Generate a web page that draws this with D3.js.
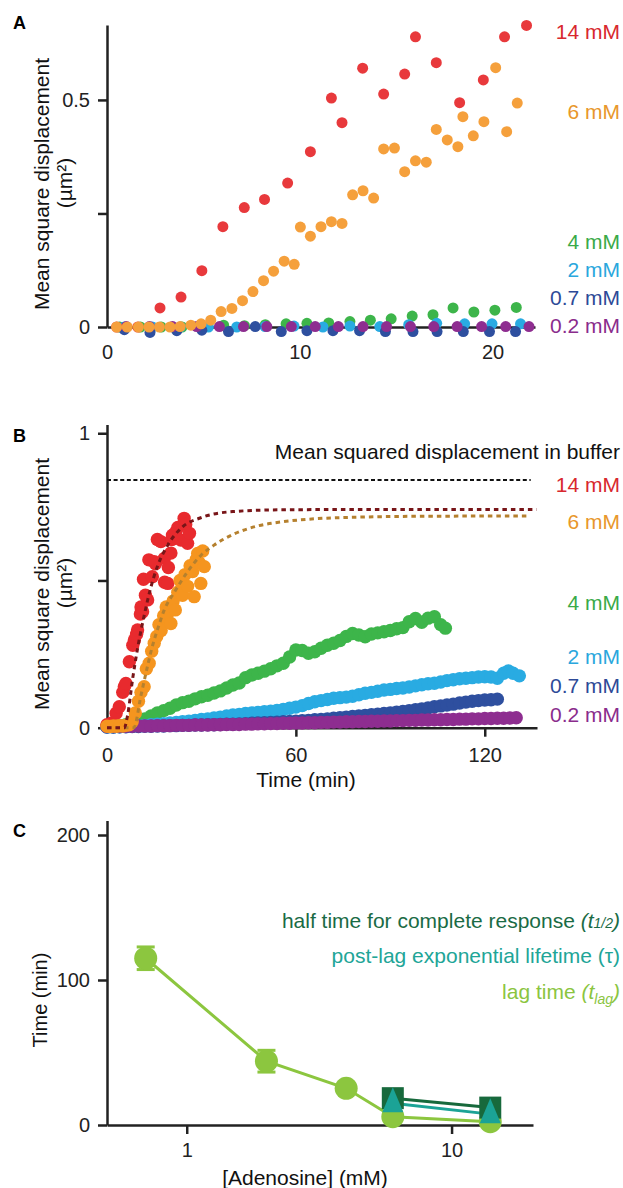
<!DOCTYPE html>
<html><head><meta charset="utf-8">
<script src="https://cdn.jsdelivr.net/npm/d3@7"></script>
<style>
body{margin:0;background:#fff}
svg{display:block}
text{font-family:"Liberation Sans",Arial,Helvetica,sans-serif}
</style>
</head><body>
<svg id="chart" width="623" height="1188"></svg>
<script>
// ---------------- Panel A data (time in min, MSD in µm²) ----------------
const A_t14 = [0.5,1.6,2.75,3.84,4.92,6.01,7.12,8.17,9.37,10.55,11.64,12.19,13.26,14.35,15.44,16.0,17.08,18.29,19.52,20.62,21.76];
const A_v14 = [0,0,0.042,0.066,0.124,0.221,0.263,0.281,0.317,0.386,0.504,0.45,0.57,0.513,0.557,0.639,0.582,0.494,0.544,0.639,0.664];
const A_t6 = [0.5,1.05,1.63,2.18,2.72,3.27,3.79,4.35,4.88,5.38,5.92,6.48,7.03,7.57,8.12,8.64,9.19,9.71,10.03,10.55,11.10,11.64,12.19,12.74,13.28,13.83,14.35,14.91,15.44,16.0,16.56,17.08,17.65,18.2,18.46,19.0,19.55,20.16,20.73,21.28];
const A_v6 = [0,0,0,0,0,0,0.001,0.004,0.007,0.015,0.034,0.041,0.058,0.078,0.102,0.123,0.145,0.138,0.220,0.200,0.221,0.232,0.228,0.291,0.300,0.284,0.392,0.394,0.342,0.366,0.363,0.435,0.412,0.397,0.463,0.421,0.452,0.571,0.430,0.493];
const A_t4 = [0.65,1.73,2.81,3.89,4.97,6.05,7.13,8.21,9.29,10.37,11.5,12.6,13.66,14.74,15.83,16.91,17.95,19.03,20.12,21.23];
const A_v4 = [0,0,0,0,0.001,0.004,0.003,0.005,0.007,0.008,0.009,0.012,0.015,0.018,0.024,0.027,0.042,0.033,0.037,0.043];
const A_t2 = [0.9,2.35,3.8,5.26,6.73,8.2,9.7,11.2,12.6,14.15,15.65,17.1,18.55,19.97,21.45];
const A_v2 = [0,0,0,0,0,0.001,0.002,0,0.002,0.001,0.005,0.008,0.007,0.007,0.007];
const A_t07 = [0.9,2.23,3.62,4.92,6.3,7.69,9.04,10.37,11.72,13.1,14.44,15.87,17.12,18.48,19.84,21.19];
const A_v07 = [-0.006,-0.012,-0.008,-0.007,-0.01,0.001,-0.01,-0.008,-0.008,-0.008,-0.01,-0.01,-0.01,-0.01,-0.01,-0.01];
const A_t02 = [1.0,2.2,3.4,4.65,5.83,7.08,8.29,9.56,10.8,12.0,13.28,14.5,15.74,16.95,18.16,19.43,20.68,21.89];
const A_v02 = [0.001,0.001,0.001,0.001,0.001,0.001,0.001,0.001,0.001,0.001,0.001,0.001,0.001,0.001,0.001,0.001,0.001,0.001];

// ---------------- Panel B data ----------------
const B_t14 = [0,1.3,2.9,3.9,5.0,5.5,6.0,7.1,8.2,8.7,9.4,9.7,10.6,10.8,11.3,11.6,12.2,12.9,13.3,14.4,15.0,15.4,16.0,17.1,18.2,18.3,19.3,19.5,20.3,20.6,20.8,21.8,22.5,23.5,24.5,25.0,25.6,26.2];
const B_v14 = [0.01,0.015,0.049,0.071,0.12,0.139,0.15,0.224,0.28,0.298,0.317,0.332,0.386,0.41,0.394,0.504,0.45,0.434,0.57,0.513,0.564,0.557,0.639,0.632,0.575,0.494,0.49,0.544,0.593,0.639,0.654,0.664,0.68,0.637,0.711,0.69,0.626,0.66];
const B_t6 = [0,1,2,3,4,5,6,7,8,9,10,10.8,11.8,12.5,13.4,14.2,15,15.8,16.5,17.2,18,18.8,19.3,20.3,21,21.7,22.5,23.2,24,24.8,25.6,26.4,27.2,27.7,28.3,28.8,29.3,29.8,30.4,30.9];
const B_v6 = [0.005,0.004,0.006,0.005,0.007,0.006,0.008,0.01,0.02,0.05,0.09,0.12,0.139,0.2,0.219,0.26,0.287,0.31,0.35,0.33,0.38,0.41,0.389,0.354,0.43,0.40,0.46,0.50,0.45,0.52,0.48,0.55,0.53,0.445,0.57,0.592,0.56,0.49,0.60,0.547];
const B_t4 = [0,2,4,6,8,10,12,14,16,18,20,22,24,26,28,30,32,34,36,38,40,42,44,46,48,50,52,54,56,58,60,62,64,66,68,70,72,74,76,78,80,82,84,86,88,90,92,94,96,98,100,102,104,106,107.5];
const B_v4 = [0.005,0.006,0.008,0.010,0.015,0.022,0.030,0.040,0.050,0.058,0.066,0.077,0.085,0.090,0.098,0.105,0.110,0.118,0.125,0.135,0.145,0.152,0.170,0.179,0.185,0.192,0.200,0.210,0.219,0.240,0.264,0.262,0.253,0.258,0.270,0.280,0.287,0.296,0.310,0.320,0.315,0.309,0.318,0.322,0.326,0.330,0.336,0.340,0.360,0.371,0.358,0.372,0.377,0.350,0.338];
const B_t2 = [0,2,4,6,8,10,12,14,16,18,20,22,24,26,28,30,32,34,36,38,40,42,44,46,48,50,52,54,56,58,60,62,64,66,68,70,72,74,76,78,80,82,84,86,88,90,92,94,96,98,100,102,104,106,108,110,112,114,116,118,120,122,124,126,127.5,129,131];
const B_v2 = [0.002,0.002,0.003,0.004,0.005,0.006,0.008,0.010,0.012,0.014,0.016,0.018,0.020,0.022,0.025,0.028,0.030,0.033,0.036,0.040,0.043,0.045,0.048,0.050,0.052,0.054,0.056,0.059,0.062,0.066,0.070,0.075,0.082,0.088,0.092,0.096,0.100,0.102,0.104,0.107,0.112,0.117,0.120,0.124,0.128,0.130,0.133,0.135,0.138,0.142,0.146,0.149,0.151,0.155,0.160,0.163,0.166,0.168,0.170,0.172,0.173,0.172,0.168,0.185,0.193,0.185,0.176];
const B_t07 = [0,2,4,6,8,10,12,14,16,18,20,22,24,26,28,30,32,34,36,38,40,42,44,46,48,50,52,54,56,58,60,62,64,66,68,70,72,74,76,78,80,82,84,86,88,90,92,94,96,98,100,102,104,106,108,110,112,114,116,118,120,122,124];
const B_v07 = [0.002,0.002,0.003,0.003,0.004,0.004,0.005,0.005,0.006,0.006,0.007,0.007,0.008,0.008,0.009,0.009,0.010,0.010,0.011,0.012,0.012,0.013,0.014,0.015,0.016,0.017,0.018,0.019,0.020,0.021,0.022,0.024,0.025,0.027,0.028,0.030,0.032,0.034,0.036,0.038,0.040,0.042,0.044,0.046,0.048,0.050,0.053,0.055,0.058,0.061,0.064,0.067,0.071,0.074,0.077,0.080,0.084,0.087,0.090,0.092,0.094,0.095,0.097];
const B_t02 = [0,2,4,6,8,10,12,14,16,18,20,22,24,26,28,30,32,34,36,38,40,42,44,46,48,50,52,54,56,58,60,62,64,66,68,70,72,74,76,78,80,82,84,86,88,90,92,94,96,98,100,102,104,106,108,110,112,114,116,118,120,122,124,126,128,130];
const B_v02 = [0.004,0.004,0.005,0.005,0.005,0.006,0.006,0.006,0.007,0.007,0.007,0.008,0.008,0.008,0.009,0.009,0.009,0.010,0.010,0.011,0.011,0.011,0.012,0.012,0.013,0.013,0.014,0.014,0.015,0.015,0.016,0.016,0.017,0.017,0.018,0.018,0.019,0.019,0.020,0.020,0.021,0.021,0.022,0.022,0.023,0.023,0.024,0.024,0.025,0.025,0.026,0.026,0.027,0.027,0.028,0.028,0.029,0.029,0.030,0.030,0.031,0.031,0.032,0.032,0.033,0.034];
// fitted curves
const fit14_t = [0,5.5,6.5,8.2,9.9,12.1,13.4,16.1,19.3,24,29.8,40,55,80,136.5];
const fit14_v = [0,0,0.04,0.17,0.28,0.395,0.455,0.55,0.62,0.682,0.713,0.734,0.74,0.741,0.741];
const fit6_t = [0,8.5,10.8,12.9,14.5,16.1,18.2,21.4,25.6,29.8,34,40.4,47.8,56.3,66.9,80,100,133.5];
const fit6_v = [0,0,0.11,0.21,0.28,0.335,0.40,0.46,0.53,0.585,0.62,0.658,0.685,0.70,0.71,0.715,0.718,0.719];
const bufferMSD = 0.841;
const bufferEnd = 134.6;

// ---------------- Panel C data ----------------
const C_concLag = [0.7, 2, 4, 6, 14];
const C_lag = [115, 44, 25.3, 5.7, 2.3];
const C_lagErr = [7.8, 7.5, 0, 0, 0];
const C_concTau = [6, 14];
const C_tau = [15, 7.5];
const C_concHalf = [6, 14];
const C_half = [18.5, 12];

// labels
const concLabels = ["14 mM","6 mM","4 mM","2 mM","0.7 mM","0.2 mM"];
const concColors = ["#d8282e","#e8972c","#3aaa48","#2aa7dd","#2d4a97","#8a2c8c"];
const dotColorsA = ["#e8393c","#f5a03c","#3db54a","#29abe2","#2e4f9f","#8e2d90"];
const dotColorsB = ["#e82a2e","#f5951f","#3db54a","#29abe2","#2e4f9f","#8e2d90"];

const svg = d3.select("#chart");
const axisColor = "#222";
const TICKF = 20;
const FONT = 21;

function styleAxis(g){
  g.selectAll("path.domain").attr("stroke", axisColor).attr("stroke-width", 2.5);
  g.selectAll(".tick line").attr("stroke", axisColor).attr("stroke-width", 2.5);
  g.selectAll(".tick text").attr("fill", "#222").style("font-size", TICKF+"px")
    .style("font-family",'"Liberation Sans",Arial,sans-serif');
}
function zipPts(t, v){ return t.map((d,i)=>({t:d, v:v[i]})); }

// ======================= PANEL A =======================
const xA = d3.scaleLinear().domain([0, 22.2]).range([107, 535]);
const yA = d3.scaleLinear().domain([0, 0.665]).range([327, 25]);

const gA = svg.append("g");
const seriesA = [
  {t:A_t4, v:A_v4, c:dotColorsA[2]},
  {t:A_t2, v:A_v2, c:dotColorsA[3]},
  {t:A_t07, v:A_v07, c:dotColorsA[4]},
  {t:A_t02, v:A_v02, c:dotColorsA[5]},
  {t:A_t14, v:A_v14, c:dotColorsA[0]},
  {t:A_t6, v:A_v6, c:dotColorsA[1]}
];
gA.append("g").attr("transform","translate(0,327)")
  .call(d3.axisBottom(xA).tickValues([0,10,20]).tickSize(0).tickPadding(18).tickSizeOuter(0))
  .call(styleAxis);
gA.append("g").attr("transform","translate(107,0)")
  .call(d3.axisLeft(yA).tickValues([0,0.25,0.5]).tickFormat(d=> d===0.25 ? "" : d3.format("~g")(d)).tickSize(9).tickPadding(8).tickSizeOuter(0))
  .call(styleAxis);
seriesA.forEach(s=>{
  gA.append("g").selectAll("circle").data(zipPts(s.t,s.v)).join("circle")
    .attr("cx", d=>xA(d.t)).attr("cy", d=>yA(d.v)).attr("r", 5.5).attr("fill", s.c);
});
const labYA = [39,119,249,277,305,333];
concLabels.forEach((l,i)=>{
  gA.append("text").attr("x",620).attr("y",labYA[i]).attr("text-anchor","end")
    .attr("fill",concColors[i]).style("font-size",FONT+"px").text(l);
});
gA.append("text").attr("x",13).attr("y",29).style("font-size","18px").style("font-weight","bold").text("A");
gA.append("text").attr("transform","translate(49,184) rotate(-90)").attr("text-anchor","middle").style("font-size","21px").attr("fill","#111").text("Mean square displacement");
gA.append("text").attr("transform","translate(72,183) rotate(-90)").attr("text-anchor","middle").style("font-size","21px").attr("fill","#111").text("(µm²)");

// ======================= PANEL B =======================
const xB = d3.scaleLinear().domain([0, 136.6]).range([107, 537]);
const yB = d3.scaleLinear().domain([0, 1.03]).range([727.7, 424.4]);
const gB = svg.append("g");
gB.append("g").attr("transform","translate(0,727.7)")
  .call(d3.axisBottom(xB).tickValues([0,60,120]).tickSize(9).tickPadding(11).tickSizeOuter(0))
  .call(styleAxis);
gB.select(".tick line").attr("stroke-opacity", 0); // no tick at origin
gB.append("g").attr("transform","translate(107,0)")
  .call(d3.axisLeft(yB).tickValues([0,0.5,1]).tickFormat(d=> d===0.5 ? "" : d3.format("~g")(d)).tickSize(9).tickPadding(8).tickSizeOuter(0))
  .call(styleAxis);

const seriesB = [
  {t:B_t4, v:B_v4, c:dotColorsB[2]},
  {t:B_t2, v:B_v2, c:dotColorsB[3]},
  {t:B_t07, v:B_v07, c:dotColorsB[4]},
  {t:B_t02, v:B_v02, c:dotColorsB[5]},
  {t:B_t14, v:B_v14, c:dotColorsB[0]},
  {t:B_t6, v:B_v6, c:dotColorsB[1]}
];
seriesB.forEach(s=>{
  gB.append("g").selectAll("circle").data(zipPts(s.t,s.v)).join("circle")
    .attr("cx", d=>xB(d.t)).attr("cy", d=>yB(d.v)).attr("r", 6.7).attr("fill", s.c);
});
const lineB = d3.line().x(d=>xB(d.t)).y(d=>yB(d.v)).curve(d3.curveMonotoneX);
gB.append("path").datum(zipPts(fit6_t, fit6_v)).attr("d", lineB)
  .attr("fill","none").attr("stroke","#b5802e").attr("stroke-width",3).attr("stroke-dasharray","4.5,4");
gB.append("path").datum(zipPts(fit14_t, fit14_v)).attr("d", lineB)
  .attr("fill","none").attr("stroke","#781518").attr("stroke-width",3).attr("stroke-dasharray","4.5,4");
gB.append("path").datum([{t:0,v:bufferMSD},{t:bufferEnd,v:bufferMSD}]).attr("d", d3.line().x(d=>xB(d.t)).y(d=>yB(d.v)))
  .attr("fill","none").attr("stroke","#111").attr("stroke-width",2).attr("stroke-dasharray","4,2.6");

gB.append("text").attr("x",620).attr("y",459).attr("text-anchor","end").attr("fill","#111")
  .style("font-size",FONT+"px").text("Mean squared displacement in buffer");
const labYB = [492,529,610,664,693,722];
concLabels.forEach((l,i)=>{
  gB.append("text").attr("x",620).attr("y",labYB[i]).attr("text-anchor","end")
    .attr("fill",concColors[i]).style("font-size",FONT+"px").text(l);
});
gB.append("text").attr("x",13).attr("y",442).style("font-size","18px").style("font-weight","bold").text("B");
gB.append("text").attr("transform","translate(49,584) rotate(-90)").attr("text-anchor","middle").style("font-size","21px").attr("fill","#111").text("Mean square displacement");
gB.append("text").attr("transform","translate(72,583) rotate(-90)").attr("text-anchor","middle").style("font-size","21px").attr("fill","#111").text("(µm²)");
gB.append("text").attr("x",306).attr("y",787).attr("text-anchor","middle").attr("fill","#111").style("font-size",FONT+"px").text("Time (min)");

// ======================= PANEL C =======================
const xC = d3.scaleLog().domain([0.5, 20.3]).range([107, 533]);
const yC = d3.scaleLinear().domain([0, 210]).range([1125, 820.5]);
const gC = svg.append("g");
gC.append("g").attr("transform","translate(0,1125)")
  .call(d3.axisBottom(xC).tickValues([1,10]).tickFormat(d3.format("~g")).tickSize(9).tickPadding(9).tickSizeOuter(0))
  .call(styleAxis);
gC.append("g").attr("transform","translate(107,0)")
  .call(d3.axisLeft(yC).tickValues([0,100,200]).tickSize(9).tickPadding(8).tickSizeOuter(0))
  .call(styleAxis);

const cLag = "#8cc63f", cTau = "#1ba396", cHalf = "#17693c";
const lineC = d3.line().x(d=>xC(d.c)).y(d=>yC(d.v));
const lagPts = C_concLag.map((c,i)=>({c, v:C_lag[i], e:C_lagErr[i]}));
const tauPts = C_concTau.map((c,i)=>({c, v:C_tau[i]}));
const halfPts = C_concHalf.map((c,i)=>({c, v:C_half[i]}));

gC.append("path").datum(halfPts).attr("d", lineC).attr("fill","none").attr("stroke",cHalf).attr("stroke-width",3);
gC.append("path").datum(tauPts).attr("d", lineC).attr("fill","none").attr("stroke",cTau).attr("stroke-width",3);
gC.append("path").datum(lagPts).attr("d", lineC).attr("fill","none").attr("stroke",cLag).attr("stroke-width",3);
// error bars
const eb = gC.append("g").attr("stroke",cLag).attr("stroke-width",3);
lagPts.filter(d=>d.e>0).forEach(d=>{
  const x = xC(d.c);
  eb.append("line").attr("x1",x).attr("x2",x).attr("y1",yC(d.v-d.e)).attr("y2",yC(d.v+d.e));
  eb.append("line").attr("x1",x-9).attr("x2",x+9).attr("y1",yC(d.v-d.e)).attr("y2",yC(d.v-d.e));
  eb.append("line").attr("x1",x-9).attr("x2",x+9).attr("y1",yC(d.v+d.e)).attr("y2",yC(d.v+d.e));
});
gC.append("g").selectAll("circle").data(lagPts).join("circle")
  .attr("cx",d=>xC(d.c)).attr("cy",d=>yC(d.v)).attr("r",11.5).attr("fill",cLag);
gC.append("g").selectAll("rect").data(halfPts).join("rect")
  .attr("x",d=>xC(d.c)-11).attr("y",d=>yC(d.v)-11).attr("width",22).attr("height",22).attr("fill",cHalf);
gC.append("g").selectAll("path").data(tauPts).join("path")
  .attr("d","M0,-16L10.5,9L-10.5,9Z")
  .attr("transform",d=>`translate(${xC(d.c)},${yC(d.v)})`).attr("fill",cTau);

// legend text
const l1 = gC.append("text").attr("x",620).attr("y",928).attr("text-anchor","end").attr("fill","#1a6b45").style("font-size",FONT+"px");
l1.append("tspan").text("half time for complete response ");
l1.append("tspan").style("font-style","italic").text("(t");
l1.append("tspan").style("font-style","italic").style("font-size","14px").text("1/2");
l1.append("tspan").style("font-style","italic").text(")");
gC.append("text").attr("x",620).attr("y",963).attr("text-anchor","end").attr("fill","#21a597").style("font-size",FONT+"px")
  .text("post-lag exponential lifetime (τ)");
const l3 = gC.append("text").attr("x",620).attr("y",999).attr("text-anchor","end").attr("fill","#8bc53f").style("font-size",FONT+"px");
l3.append("tspan").text("lag time ");
l3.append("tspan").style("font-style","italic").text("(t");
l3.append("tspan").style("font-style","italic").style("font-size","14px").attr("dy",5).text("lag");
l3.append("tspan").style("font-style","italic").attr("dy",-5).text(")");

gC.append("text").attr("x",13).attr("y",837).style("font-size","18px").style("font-weight","bold").text("C");
gC.append("text").attr("transform","translate(47,1000) rotate(-90)").attr("text-anchor","middle").style("font-size","20px").attr("fill","#111").text("Time (min)");
gC.append("text").attr("x",305).attr("y",1185).attr("text-anchor","middle").attr("fill","#111").style("font-size",FONT+"px").text("[Adenosine] (mM)");
</script>
</body></html>
